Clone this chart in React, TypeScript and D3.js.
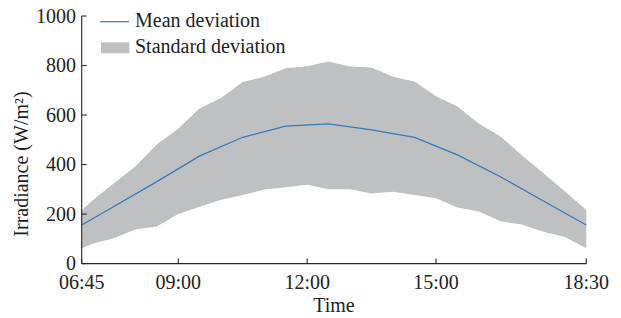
import React from "react";
import * as d3 from "d3";

// Band (standard deviation) sampled every half hour
const bandTimes = [
  "06:45", "07:00", "07:30", "08:00", "08:30", "09:00", "09:30", "10:00", "10:30",
  "11:00", "11:30", "12:00", "12:30", "13:00", "13:30", "14:00", "14:30", "15:00",
  "15:30", "16:00", "16:30", "17:00", "17:30", "18:00", "18:30",
];
const upperValues = [
  215, 255, 325, 392, 482, 545, 627, 670, 733, 755, 789, 797, 816, 796, 792, 755,
  735, 676, 634, 565, 513, 438, 365, 292, 216,
];
const lowerValues = [
  62, 80, 102, 138, 150, 200, 230, 258, 277, 299, 308, 318, 300, 300, 283, 290,
  277, 264, 227, 210, 171, 158, 129, 107, 62,
];

// Mean line
const meanTimes = [
  "06:45", "07:30", "08:30", "09:30", "10:30", "11:30", "12:30", "13:30", "14:30",
  "15:30", "16:30", "17:30", "18:30",
];
const meanValues = [156, 231, 331, 435, 510, 555, 564, 540, 510, 439, 351, 253, 156];

const xTickLabels = ["06:45", "09:00", "12:00", "15:00", "18:30"];
const yTickValues = [0, 200, 400, 600, 800, 1000];

const toMin = (s: string) => {
  const [h, m] = s.split(":").map(Number);
  return h * 60 + m;
};

const W = 621;
const H = 318;
const margin = { left: 81.7, right: 621 - 586.3, top: 16, bottom: 318 - 263.6 };
const FONT = "Liberation Serif, Times New Roman, serif";
const AXIS = "#262626";
const TEXT = "#1e1e1e";
const BLUE = "#3479bb";
const GREY = "#bfc0c2";
const ts: React.CSSProperties = { fontFamily: FONT, fontSize: 20 };

export default function App() {
  const x = d3
    .scaleLinear()
    .domain([toMin("06:45"), toMin("18:30")])
    .range([margin.left, W - margin.right]);
  const y = d3.scaleLinear().domain([0, 1000]).range([H - margin.bottom, margin.top]);

  const band = bandTimes.map((t, i) => ({ t: toMin(t), lo: lowerValues[i], hi: upperValues[i] }));
  const mean = meanTimes.map((t, i) => ({ t: toMin(t), v: meanValues[i] }));

  const area = d3
    .area<{ t: number; lo: number; hi: number }>()
    .x((d) => x(d.t))
    .y0((d) => y(d.lo))
    .y1((d) => y(d.hi))
    .curve(d3.curveLinear);
  const line = d3
    .line<{ t: number; v: number }>()
    .x((d) => x(d.t))
    .y((d) => y(d.v));

  const x0 = x.range()[0];
  const x1 = x.range()[1];
  const yb = y(0);
  const tickLen = 5;

  return (
    <svg
      width={W}
      height={H}
      style={{ position: "absolute", left: 0, top: 0, background: "#fff" }}
    >
      <path d={area(band) || ""} fill={GREY} stroke="none" />
      <path d={line(mean) || ""} fill="none" stroke={BLUE} strokeWidth={1.2} />

      {/* axes */}
      <line x1={x0} x2={x1} y1={yb} y2={yb} stroke={AXIS} strokeWidth={1.1} />
      <line x1={x0} x2={x0} y1={yb} y2={y(1000)} stroke={AXIS} strokeWidth={1.1} />
      {xTickLabels.map((lab) => {
        const px = x(toMin(lab));
        return (
          <g key={lab}>
            <line x1={px} x2={px} y1={yb} y2={yb - tickLen} stroke={AXIS} strokeWidth={1.1} />
            <text x={px} y={yb + 25.5} textAnchor="middle" style={ts} fill={TEXT}>
              {lab}
            </text>
          </g>
        );
      })}
      {yTickValues.map((v) => {
        const py = y(v);
        return (
          <g key={v}>
            <line x1={x0} x2={x0 + tickLen} y1={py} y2={py} stroke={AXIS} strokeWidth={1.1} />
            <text x={76} y={py + 6.5} textAnchor="end" style={ts} fill={TEXT}>
              {v}
            </text>
          </g>
        );
      })}

      <text x={(x0 + x1) / 2} y={311.5} textAnchor="middle" style={ts} fill={TEXT}>
        Time
      </text>
      <text
        transform={`translate(28,164) rotate(-90)`}
        textAnchor="middle"
        style={ts}
        fill={TEXT}
      >
        Irradiance (W/m²)
      </text>

      {/* legend */}
      <line x1={100} x2={129} y1={21.7} y2={21.7} stroke={BLUE} strokeWidth={1.2} />
      <text x={135} y={27} style={ts} fill={TEXT}>
        Mean deviation
      </text>
      <rect x={101} y={42.3} width={28.3} height={11} fill={GREY} />
      <text x={135} y={52.5} style={ts} fill={TEXT}>
        Standard deviation
      </text>
    </svg>
  );
}
